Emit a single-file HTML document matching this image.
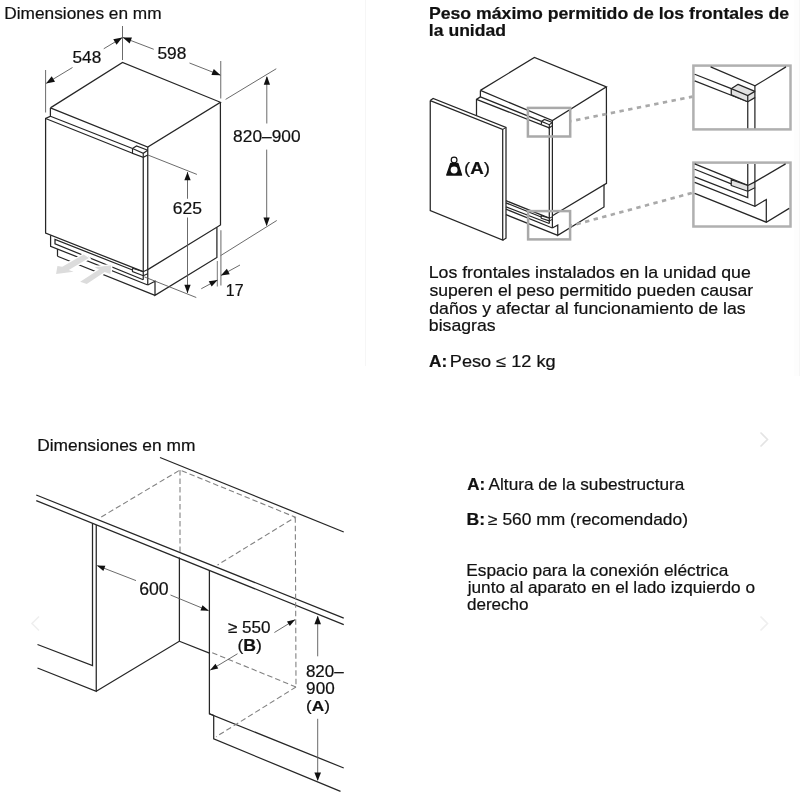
<!DOCTYPE html><html><head><meta charset="utf-8"><title>Dimensiones</title>
<style>html,body{margin:0;padding:0;background:#fff}svg{display:block;will-change:transform;filter:grayscale(1)}text{font-family:"Liberation Sans",sans-serif;fill:#111;stroke:#111;stroke-width:.2px}</style></head><body>
<svg width="800" height="800" viewBox="0 0 800 800">
<rect width="800" height="800" fill="#fff"/>
<rect x="365" y="0" width="1" height="366" fill="#f6f6f6"/>
<rect x="794" y="0" width="6" height="376" fill="#fdfdfd"/>
<rect x="799" y="0" width="1" height="376" fill="#f6f6f6"/>
<path d="M760.5 432.5 L767.5 439.5 L760.5 446.5" fill="none" stroke="#e4e4e4" stroke-width="1.6"/>
<path d="M760.5 616.5 L767.5 623.5 L760.5 630.5" fill="none" stroke="#efefef" stroke-width="1.6"/>
<path d="M39.0 616.5 L32.0 623.5 L39.0 630.5" fill="none" stroke="#efefef" stroke-width="1.6"/>
<path d="M50.40 107.90 L122.50 62.50 L220.40 102.25 L147.75 147.00 L50.40 107.90" fill="none" stroke="#262626" stroke-width="1.25" />
<path d="M50.40 107.90 L50.40 116.25 L45.60 118.50 L45.60 233.10 L143.25 271.70" fill="none" stroke="#262626" stroke-width="1.25" />
<path d="M50.40 116.25 L132.50 148.50" fill="none" stroke="#262626" stroke-width="1.25" />
<path d="M45.60 118.50 L132.50 153.25" fill="none" stroke="#262626" stroke-width="1.25" />
<path d="M132.50 148.50 L136.50 146.00 L147.75 150.20" fill="none" stroke="#262626" stroke-width="1.15" />
<path d="M132.50 148.50 L143.25 153.30 L147.75 150.20" fill="none" stroke="#262626" stroke-width="1.15" />
<path d="M132.50 148.50 L132.50 153.25 L143.25 157.30 L147.75 155.00" fill="none" stroke="#262626" stroke-width="1.15" />
<path d="M143.25 153.30 L143.25 157.30" fill="none" stroke="#262626" stroke-width="1.15" />
<path d="M143.25 157.30 L143.25 279.75" fill="none" stroke="#262626" stroke-width="1.25" />
<path d="M147.75 147.00 L147.75 285.00" fill="none" stroke="#262626" stroke-width="1.25" />
<path d="M220.40 102.25 L220.50 225.00 L147.75 269.60" fill="none" stroke="#262626" stroke-width="1.25" />
<path d="M216.90 227.30 L216.90 257.50 L155.00 295.40 L155.00 281.25 L147.75 285.00" fill="none" stroke="#262626" stroke-width="1.25" />
<path d="M57.50 256.25 L155.00 295.40" fill="none" stroke="#262626" stroke-width="1.25" />
<path d="M57.50 249.00 L57.50 256.25" fill="none" stroke="#262626" stroke-width="1.25" />
<path d="M50.60 235.20 L50.60 246.25 L147.75 285.00" fill="none" stroke="#262626" stroke-width="1.25" />
<path d="M132.50 270.00 L55.00 239.40 L55.00 243.75 L143.25 279.75" fill="none" stroke="#262626" stroke-width="1.25" />
<path d="M132.50 268.20 L132.50 271.50 L143.25 275.75 L147.75 273.75" fill="none" stroke="#262626" stroke-width="1.15" />
<path d="M132.50 268.20 L143.25 271.70 L147.75 269.60" fill="none" stroke="#262626" stroke-width="1.15" />
<path d="M83.70 254.60 L88.90 258.10 L68.80 269.90 L73.60 271.70 L56.10 273.90 L57.40 266.00 L62.25 266.70Z" fill="#dcdcdc" stroke="#fff" stroke-width="2.6" paint-order="stroke" stroke-linejoin="miter"/>
<path d="M80.20 281.75 L99.00 269.50 L94.60 267.30 L111.25 265.30 L110.40 273.90 L104.70 272.10 L86.75 283.90Z" fill="#dcdcdc" stroke="#fff" stroke-width="2.6" paint-order="stroke" stroke-linejoin="miter"/>
<path d="M45.60 70.00 L45.60 112.50" fill="none" stroke="#5a5a5a" stroke-width="0.9" />
<path d="M122.50 26.00 L122.50 60.00" fill="none" stroke="#5a5a5a" stroke-width="0.9" />
<path d="M220.75 61.00 L220.75 98.50" fill="none" stroke="#5a5a5a" stroke-width="0.9" />
<path d="M46.30 83.30 L72.50 67.50" fill="none" stroke="#5a5a5a" stroke-width="0.9" />
<path d="M103.75 48.75 L122.50 37.50" fill="none" stroke="#5a5a5a" stroke-width="0.9" />
<path d="M46.00 83.50 L51.73 76.33 L55.02 81.82Z" fill="#111"/>
<path d="M122.30 37.60 L116.57 44.77 L113.28 39.28Z" fill="#111"/>
<path d="M123.00 37.50 L153.75 49.30" fill="none" stroke="#5a5a5a" stroke-width="0.9" />
<path d="M189.50 63.00 L220.50 75.20" fill="none" stroke="#5a5a5a" stroke-width="0.9" />
<path d="M122.80 37.40 L131.97 37.54 L129.65 43.51Z" fill="#111"/>
<path d="M220.60 75.20 L211.43 75.06 L213.75 69.09Z" fill="#111"/>
<path d="M225.60 99.40 L276.25 68.75" fill="none" stroke="#5a5a5a" stroke-width="0.9" />
<path d="M220.50 255.70 L276.75 220.50" fill="none" stroke="#5a5a5a" stroke-width="0.9" />
<path d="M266.80 77.00 L266.80 123.50" fill="none" stroke="#5a5a5a" stroke-width="0.9" />
<path d="M266.70 149.60 L266.70 225.00" fill="none" stroke="#5a5a5a" stroke-width="0.9" />
<path d="M266.90 76.00 L270.05 84.80 L263.75 84.80Z" fill="#111"/>
<path d="M266.60 226.20 L263.45 217.40 L269.75 217.40Z" fill="#111"/>
<path d="M217.30 261.00 L217.30 286.50" fill="none" stroke="#777" stroke-width="1.0" />
<path d="M220.90 230.30 L220.90 285.50" fill="none" stroke="#777" stroke-width="1.1" />
<path d="M201.25 288.75 L217.50 280.00" fill="none" stroke="#5a5a5a" stroke-width="0.9" />
<path d="M217.60 279.90 L211.68 286.62 L208.74 281.16Z" fill="#111"/>
<path d="M240.00 265.00 L221.00 275.40" fill="none" stroke="#5a5a5a" stroke-width="0.9" />
<path d="M220.90 275.50 L226.82 268.78 L229.76 274.24Z" fill="#111"/>
<path d="M147.90 155.00 L196.90 174.40" fill="none" stroke="#5a5a5a" stroke-width="0.9" />
<path d="M144.40 276.90 L196.25 297.50" fill="none" stroke="#5a5a5a" stroke-width="0.9" />
<path d="M187.50 172.00 L187.50 198.75" fill="none" stroke="#5a5a5a" stroke-width="0.9" />
<path d="M187.50 217.50 L187.50 293.00" fill="none" stroke="#5a5a5a" stroke-width="0.9" />
<path d="M187.50 171.90 L190.65 180.30 L184.35 180.30Z" fill="#111"/>
<path d="M187.50 293.20 L184.35 284.80 L190.65 284.80Z" fill="#111"/>
<text x="4.32" y="18.70" font-size="15.8" textLength="157.29" lengthAdjust="spacingAndGlyphs" xml:space="preserve">Dimensiones en mm</text>
<text x="72.51" y="63.00" font-size="16.5" textLength="28.74" lengthAdjust="spacingAndGlyphs" xml:space="preserve">548</text>
<text x="157.41" y="59.30" font-size="16.5" textLength="28.95" lengthAdjust="spacingAndGlyphs" xml:space="preserve">598</text>
<text x="233.12" y="142.10" font-size="17.2" textLength="67.44" lengthAdjust="spacingAndGlyphs" xml:space="preserve">820–900</text>
<text x="172.82" y="213.70" font-size="16.8" textLength="29.24" lengthAdjust="spacingAndGlyphs" xml:space="preserve">625</text>
<text x="225.80" y="295.80" font-size="16.4" textLength="17.73" lengthAdjust="spacingAndGlyphs" xml:space="preserve">17</text>
<text x="428.95" y="19.20" font-size="16.4" textLength="360.25" lengthAdjust="spacingAndGlyphs" xml:space="preserve"><tspan font-weight="bold">Peso máximo permitido de los frontales de</tspan></text>
<text x="428.87" y="36.20" font-size="16.4" textLength="77.16" lengthAdjust="spacingAndGlyphs" xml:space="preserve"><tspan font-weight="bold">la unidad</tspan></text>
<path d="M430.25 100.60 L502.70 129.40 L502.70 240.00 L430.25 210.60 L430.25 100.60" fill="none" stroke="#262626" stroke-width="1.25" />
<path d="M430.25 100.60 L433.10 98.50 L506.00 127.50 L506.00 238.20 L502.70 240.20" fill="none" stroke="#262626" stroke-width="1.25" />
<path d="M502.70 129.40 L506.00 127.50" fill="none" stroke="#262626" stroke-width="1.0" />
<path d="M480.40 90.40 L534.40 57.50 L606.40 86.90 L552.40 120.60 L480.40 90.40" fill="none" stroke="#262626" stroke-width="1.25" />
<path d="M480.40 90.40 L480.40 96.90 L476.50 99.40 L476.50 115.80" fill="none" stroke="#262626" stroke-width="1.25" />
<path d="M480.40 96.90 L541.40 121.40" fill="none" stroke="#262626" stroke-width="1.25" />
<path d="M476.50 99.40 L549.30 127.80" fill="none" stroke="#262626" stroke-width="1.25" />
<path d="M541.40 121.40 L544.40 119.40 L552.40 122.50" fill="none" stroke="#262626" stroke-width="1.15" />
<path d="M541.40 121.40 L549.30 124.70 L552.40 122.50" fill="none" stroke="#262626" stroke-width="1.15" />
<path d="M541.40 121.40 L541.40 124.30" fill="none" stroke="#262626" stroke-width="1.15" />
<path d="M549.30 124.70 L549.30 127.80 L552.40 125.60" fill="none" stroke="#262626" stroke-width="1.15" />
<path d="M549.30 127.80 L549.30 223.50" fill="none" stroke="#262626" stroke-width="1.25" />
<path d="M552.40 120.60 L552.40 228.00" fill="none" stroke="#262626" stroke-width="1.25" />
<path d="M606.40 86.90 L606.50 183.30 L552.40 215.80" fill="none" stroke="#262626" stroke-width="1.25" />
<path d="M604.00 184.80 L604.00 207.00 L557.75 235.30 L557.75 225.00 L552.40 228.00" fill="none" stroke="#262626" stroke-width="1.25" />
<path d="M506.00 200.70 L549.30 218.20" fill="none" stroke="#262626" stroke-width="1.25" />
<path d="M506.00 202.90 L541.20 217.00" fill="none" stroke="#262626" stroke-width="1.25" />
<path d="M506.00 206.90 L549.30 223.50" fill="none" stroke="#262626" stroke-width="1.25" />
<path d="M506.00 209.20 L552.40 228.00" fill="none" stroke="#262626" stroke-width="1.25" />
<path d="M506.00 214.70 L557.75 235.30" fill="none" stroke="#262626" stroke-width="1.25" />
<path d="M541.2 215.6 L549.3 218.3 L549.3 220.9 L541.2 218.3Z" fill="#fff" stroke="#262626" stroke-width="1.2" stroke-linejoin="round"/>
<path d="M549.30 218.30 L552.40 216.80" fill="none" stroke="#262626" stroke-width="1.0" />
<path d="M549.30 220.90 L552.40 219.40" fill="none" stroke="#262626" stroke-width="1.0" />
<rect x="527.9" y="107.9" width="42.3" height="28.6" fill="none" stroke="#a9a9a9" stroke-width="2.5"/>
<rect x="528.1" y="211.1" width="42.0" height="28.3" fill="none" stroke="#a9a9a9" stroke-width="2.5"/>
<path d="M571.3 121.1 L692.6 96.6" stroke="#a9a9a9" stroke-width="2.7" stroke-dasharray="4.4 4.45" stroke-dashoffset="-4.9" fill="none"/>
<path d="M571.3 225.6 L692.6 192.8" stroke="#a9a9a9" stroke-width="2.7" stroke-dasharray="4.4 4.45" stroke-dashoffset="-5.4" fill="none"/>
<rect x="693.4" y="65.6" width="97.1" height="63.8" fill="#fff" stroke="#b0b0b0" stroke-width="2.5"/>
<path d="M710.60 66.90 L755.00 85.90 L786.00 66.90" fill="none" stroke="#262626" stroke-width="1.25" />
<path d="M694.70 74.25 L731.25 88.70" fill="none" stroke="#262626" stroke-width="1.25" />
<path d="M694.70 80.85 L747.75 101.75" fill="none" stroke="#262626" stroke-width="1.25" />
<path d="M731.25 88.7 L738.1 84.3 L754.9 91.4 L754.9 97.6 L747.75 101.75 L731.25 94.9Z" fill="#e2e2e2" stroke="#262626" stroke-width="1.25" stroke-linejoin="round"/>
<path d="M731.25 88.70 L747.75 95.60 L754.90 91.40" fill="none" stroke="#262626" stroke-width="1.25" />
<path d="M747.75 95.60 L747.75 101.75" fill="none" stroke="#262626" stroke-width="1.25" />
<path d="M747.75 101.75 L747.75 128.20" fill="none" stroke="#262626" stroke-width="1.25" />
<path d="M754.90 85.90 L754.90 91.40" fill="none" stroke="#262626" stroke-width="1.25" />
<path d="M754.90 97.60 L754.90 128.20" fill="none" stroke="#262626" stroke-width="1.25" />
<rect x="693.4" y="162.6" width="97.1" height="63.9" fill="#fff" stroke="#b0b0b0" stroke-width="2.5"/>
<path d="M747.75 163.90 L747.75 185.50" fill="none" stroke="#262626" stroke-width="1.25" />
<path d="M754.90 163.90 L754.90 181.90" fill="none" stroke="#262626" stroke-width="1.25" />
<path d="M754.90 187.80 L754.90 206.40" fill="none" stroke="#262626" stroke-width="1.25" />
<path d="M754.90 181.90 L785.60 163.90" fill="none" stroke="#262626" stroke-width="1.25" />
<path d="M694.70 163.90 L747.75 185.30" fill="none" stroke="#262626" stroke-width="1.25" />
<path d="M694.70 169.25 L731.25 183.90" fill="none" stroke="#262626" stroke-width="1.25" />
<path d="M694.70 176.80 L747.75 197.60 L747.75 191.25" fill="none" stroke="#262626" stroke-width="1.25" />
<path d="M694.70 182.30 L754.90 206.40 L766.30 199.50 L766.30 222.20" fill="none" stroke="#262626" stroke-width="1.25" />
<path d="M694.70 193.30 L766.30 222.20 L789.20 208.40" fill="none" stroke="#262626" stroke-width="1.25" />
<path d="M731.25 179.6 L747.75 185.5 L754.9 181.9 L754.9 187.8 L747.75 191.25 L731.25 185.5Z" fill="#e2e2e2" stroke="#262626" stroke-width="1.25" stroke-linejoin="round"/>
<path d="M747.75 185.50 L747.75 191.25" fill="none" stroke="#262626" stroke-width="1.25" />
<path d="M450.7 163.5 L457.9 163.5 L461.6 175.1 L446.7 175.1Z" fill="#111" stroke="#111" stroke-width="1.3" stroke-linejoin="round"/>
<circle cx="454.1" cy="170.0" r="3.45" fill="#fff"/>
<circle cx="454.1" cy="160.0" r="2.9" fill="#fff" stroke="#111" stroke-width="1.15"/>
<text x="464.08" y="173.80" font-size="16.6" textLength="26.01" lengthAdjust="spacingAndGlyphs" xml:space="preserve">(<tspan font-weight="bold">A</tspan>)</text>
<text x="428.68" y="278.20" font-size="16.2" textLength="322.12" lengthAdjust="spacingAndGlyphs" xml:space="preserve">Los frontales instalados en la unidad que</text>
<text x="429.47" y="295.90" font-size="16.2" textLength="323.72" lengthAdjust="spacingAndGlyphs" xml:space="preserve">superen el peso permitido pueden causar</text>
<text x="429.29" y="313.50" font-size="16.2" textLength="316.33" lengthAdjust="spacingAndGlyphs" xml:space="preserve">daños y afectar al funcionamiento de las</text>
<text x="428.85" y="331.00" font-size="16.2" textLength="66.66" lengthAdjust="spacingAndGlyphs" xml:space="preserve">bisagras</text>
<text x="429.07" y="366.70" font-size="16.0" textLength="18.15" lengthAdjust="spacingAndGlyphs" xml:space="preserve"><tspan font-weight="bold">A:</tspan></text>
<text x="449.85" y="366.70" font-size="16.0" textLength="105.73" lengthAdjust="spacingAndGlyphs" xml:space="preserve">Peso ≤ 12 kg</text>
<text x="37.21" y="450.80" font-size="16.2" textLength="158.21" lengthAdjust="spacingAndGlyphs" xml:space="preserve">Dimensiones en mm</text>
<path d="M160.00 457.50 L343.75 532.00" fill="none" stroke="#262626" stroke-width="1.25" />
<path d="M36.25 495.00 L343.75 618.10" fill="none" stroke="#262626" stroke-width="1.25" />
<path d="M36.25 500.60 L343.75 624.60" fill="none" stroke="#262626" stroke-width="1.25" />
<path d="M92.50 523.50 L92.50 665.50 L37.50 644.50" fill="none" stroke="#262626" stroke-width="1.25" />
<path d="M96.25 525.00 L96.25 691.25 L37.50 668.00" fill="none" stroke="#262626" stroke-width="1.25" />
<path d="M96.25 691.25 L179.40 641.25 L179.40 557.50" fill="none" stroke="#262626" stroke-width="1.25" />
<path d="M179.40 641.25 L209.40 653.20" fill="none" stroke="#262626" stroke-width="1.25" />
<path d="M209.40 570.00 L209.40 713.75 L343.75 768.00" fill="none" stroke="#262626" stroke-width="1.25" />
<path d="M209.40 713.75 L213.70 715.50 L213.70 738.90 L340.50 791.40" fill="none" stroke="#262626" stroke-width="1.25" />
<path d="M101.25 517.00 L180.00 470.00 L295.30 517.20 L217.50 565.00" fill="none" stroke="#828282" stroke-width="1.1" stroke-dasharray="5.5 3.0"/>
<path d="M180.00 470.00 L180.00 552.00" fill="none" stroke="#828282" stroke-width="1.1" stroke-dasharray="5.5 3.0"/>
<path d="M295.30 517.20 L296.00 687.00" fill="none" stroke="#828282" stroke-width="1.1" stroke-dasharray="5.5 3.0"/>
<path d="M296.00 687.00 L209.40 651.60" fill="none" stroke="#828282" stroke-width="1.1" stroke-dasharray="5.5 3.0"/>
<path d="M296.00 687.00 L216.00 736.80" fill="none" stroke="#828282" stroke-width="1.1" stroke-dasharray="5.5 3.0"/>
<path d="M97.50 565.70 L136.00 580.60" fill="none" stroke="#5a5a5a" stroke-width="0.9" />
<path d="M170.50 595.00 L208.50 610.70" fill="none" stroke="#5a5a5a" stroke-width="0.9" />
<path d="M96.90 565.40 L105.37 565.70 L103.34 570.92Z" fill="#111"/>
<path d="M208.90 610.80 L200.43 610.43 L202.51 605.23Z" fill="#111"/>
<text x="139.22" y="594.60" font-size="17.6" textLength="29.46" lengthAdjust="spacingAndGlyphs" xml:space="preserve">600</text>
<path d="M274.40 632.50 L295.00 619.80" fill="none" stroke="#5a5a5a" stroke-width="0.9" />
<path d="M295.20 619.60 L289.82 626.11 L286.98 621.52Z" fill="#111"/>
<path d="M237.50 653.75 L210.50 670.00" fill="none" stroke="#5a5a5a" stroke-width="0.9" />
<path d="M210.00 670.30 L215.47 663.87 L218.25 668.50Z" fill="#111"/>
<text x="227.79" y="633.20" font-size="16.4" textLength="42.61" lengthAdjust="spacingAndGlyphs" xml:space="preserve">≥ 550</text>
<text x="237.44" y="650.50" font-size="15.6" textLength="24.47" lengthAdjust="spacingAndGlyphs" xml:space="preserve">(<tspan font-weight="bold">B</tspan>)</text>
<path d="M317.70 616.50 L317.70 656.30" fill="none" stroke="#5a5a5a" stroke-width="0.9" />
<path d="M317.70 718.80 L317.70 780.00" fill="none" stroke="#5a5a5a" stroke-width="0.9" />
<path d="M317.70 615.80 L321.00 624.20 L314.40 624.20Z" fill="#111"/>
<path d="M317.70 781.00 L314.40 772.60 L321.00 772.60Z" fill="#111"/>
<text x="305.94" y="676.90" font-size="16.1" textLength="37.76" lengthAdjust="spacingAndGlyphs" xml:space="preserve">820–</text>
<text x="306.13" y="693.90" font-size="15.9" textLength="28.53" lengthAdjust="spacingAndGlyphs" xml:space="preserve">900</text>
<text x="306.06" y="711.30" font-size="15.4" textLength="24.03" lengthAdjust="spacingAndGlyphs" xml:space="preserve">(<tspan font-weight="bold">A</tspan>)</text>
<text x="467.18" y="489.60" font-size="15.9" textLength="17.93" lengthAdjust="spacingAndGlyphs" xml:space="preserve"><tspan font-weight="bold">A:</tspan></text>
<text x="488.60" y="489.60" font-size="15.9" textLength="195.71" lengthAdjust="spacingAndGlyphs" xml:space="preserve">Altura de la subestructura</text>
<text x="466.55" y="524.70" font-size="15.9" textLength="18.61" lengthAdjust="spacingAndGlyphs" xml:space="preserve"><tspan font-weight="bold">B:</tspan></text>
<text x="488.08" y="524.70" font-size="15.9" textLength="199.92" lengthAdjust="spacingAndGlyphs" xml:space="preserve">≥ 560 mm (recomendado)</text>
<text x="466.32" y="576.10" font-size="16.0" textLength="261.99" lengthAdjust="spacingAndGlyphs" xml:space="preserve">Espacio para la conexión eléctrica</text>
<text x="467.73" y="593.20" font-size="16.0" textLength="287.24" lengthAdjust="spacingAndGlyphs" xml:space="preserve">junto al aparato en el lado izquierdo o</text>
<text x="466.92" y="610.20" font-size="16.0" textLength="61.65" lengthAdjust="spacingAndGlyphs" xml:space="preserve">derecho</text>
</svg></body></html>
